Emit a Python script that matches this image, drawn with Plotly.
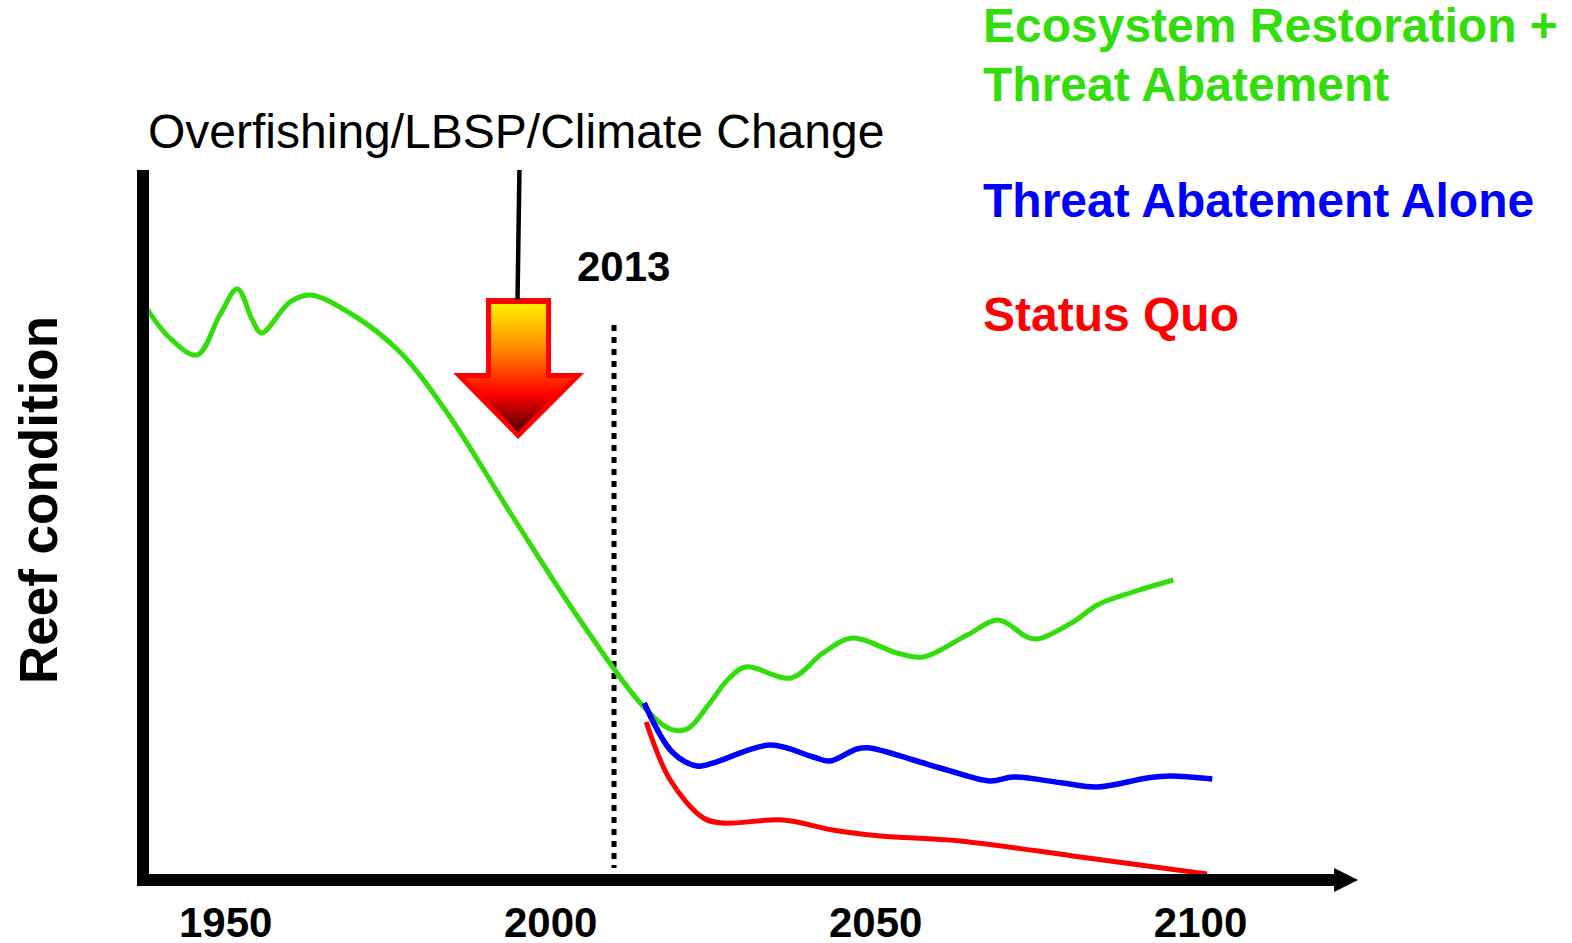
import plotly.graph_objects as go

GREEN = "#33DD0B"
BLUE = "#0000FF"
RED = "#FF0000"

tick_years = [1950, 2000, 2050, 2100]

green_years = [1937.6, 1941.4, 1945.6, 1949.1, 1951.8, 1954.1, 1955.5, 1959.9, 1963, 1969.6, 1976.8,
               1984.1, 1994.2, 2004.5, 2014.2, 2018.4, 2021, 2024.5, 2027.2, 2030, 2037, 2041.9,
               2046.4, 2053.3, 2057.3, 2064.1, 2068.9, 2073.3, 2075, 2080.4, 2084.1, 2089.6, 2095.8]
green_values = [57.4, 54.2, 52.5, 56.5, 59.1, 56, 54.7, 57.8, 58.5, 56.5, 52.8,
                46.7, 36.3, 26, 17.4, 15.1, 15.1, 17.7, 20, 21.3, 20.2, 22.7,
                24.2, 22.7, 22.3, 24.5, 26, 24.3, 24.1, 25.8, 27.5, 28.8, 30]

blue_years = [2014.4, 2018.7, 2022.5, 2025, 2033.8, 2040.4, 2043, 2047.1, 2049.1, 2055.8, 2061,
              2067.6, 2071.2, 2078.8, 2084.1, 2091.8, 2095.3, 2101.8]
blue_values = [17.7, 12.8, 11.4, 11.7, 13.5, 12.3, 11.9, 13.1, 13.2, 12, 11,
               9.9, 10.3, 9.7, 9.3, 10.2, 10.4, 10.1]

red_years = [2014.7, 2018.4, 2023.5, 2026.5, 2035.8, 2043.4, 2050.7, 2063, 2081.5, 2101]
red_values = [15.8, 10, 6.2, 5.7, 6, 5, 4.4, 3.9, 2.3, 0.6]

marker_2013_x = [2009.75, 2009.75]
marker_2013_y = [55.5, 1.2]

stem_x = [1995.2, 1994.9]
stem_y = [71.2, 58]

arrow_outer_x = [1990.06, 2000.06, 2000.06, 2005.14, 1995, 1985, 1990.06, 1990.06]
arrow_outer_y = [58.2, 58.2, 50.7, 50.7, 44.1, 50.7, 50.7, 58.2]
arrow_inner_x = [1990.83, 1999.29, 1999.29, 2003.29, 1995, 1986.83, 1990.83, 1990.83]
arrow_inner_y = [57.6, 57.6, 50.2, 50.2, 44.8, 50.2, 50.2, 57.6]

fig = go.Figure()

fig.add_trace(go.Scatter(x=arrow_outer_x, y=arrow_outer_y, mode="lines", fill="toself",
                         fillcolor=RED, line=dict(width=0, color=RED)))
fig.add_trace(go.Scatter(
    x=arrow_inner_x, y=arrow_inner_y, mode="lines", fill="toself",
    line=dict(width=0, color=RED),
    fillgradient=dict(
        type="vertical", start=57.6, stop=44.8,
        colorscale=[[0, "#FFF000"], [0.33, "#FF9000"], [0.58, "#FF3000"],
                    [0.7, "#FF0000"], [1, "#500000"]],
    ),
))
fig.add_trace(go.Scatter(x=stem_x, y=stem_y, mode="lines", line=dict(color="black", width=4.5)))
fig.add_trace(go.Scatter(x=marker_2013_x, y=marker_2013_y, mode="lines",
                         line=dict(color="black", width=5, dash="6px,6px")))
fig.add_trace(go.Scatter(x=green_years, y=green_values, mode="lines",
                         line=dict(color=GREEN, width=5, shape="spline", smoothing=1)))
fig.add_trace(go.Scatter(x=red_years, y=red_values, mode="lines",
                         line=dict(color=RED, width=5, shape="spline", smoothing=1)))
fig.add_trace(go.Scatter(x=blue_years, y=blue_values, mode="lines",
                         line=dict(color=BLUE, width=5.5, shape="spline", smoothing=1)))
fig.update_traces(cliponaxis=False, showlegend=False, hoverinfo="skip")

FONT = "Liberation Sans"


def note(text, xpx, ypx, size, color="black", bold=True, xanchor="left", angle=0):
    fig.add_annotation(
        text=f"<b>{text}</b>" if bold else text,
        xref="paper", yref="paper",
        x=(xpx - 149) / 1186, y=(874 - ypx) / 704,
        xanchor=xanchor, yanchor="middle", showarrow=False, textangle=angle,
        font=dict(family=FONT, size=size, color=color),
    )


note("Ecosystem Restoration +", 981, 26, 48, GREEN)
note("Threat Abatement", 981, 85, 48, GREEN)
note("Threat Abatement Alone", 981, 200, 48, BLUE)
note("Status Quo", 981, 314, 48, RED)
note("Overfishing/LBSP/Climate Change", 146, 131, 48, bold=False)
note("2013", 575, 266, 42)
note("Reef condition", 38, 500, 53, xanchor="center", angle=-90)

fig.update_layout(
    width=1572, height=943, autosize=False,
    margin=dict(l=149, r=1572 - 1335, t=170, b=943 - 874, autoexpand=False),
    paper_bgcolor="white", plot_bgcolor="white",
    xaxis=dict(
        range=[1938.2, 2120.68], showgrid=False, zeroline=False, automargin=False,
        showline=True, linecolor="black", linewidth=12, layer="below traces",
        tickmode="array", tickvals=tick_years, ticktext=[str(y) for y in tick_years],
        ticks="outside", ticklen=1, tickcolor="rgba(0,0,0,0)",
        tickfont=dict(family=FONT, size=42, color="black", weight="bold"),
    ),
    yaxis=dict(
        range=[0.6, 71], showgrid=False, zeroline=False, showticklabels=False, automargin=False,
        showline=True, linecolor="black", linewidth=12, ticks="", layer="below traces",
    ),
    shapes=[dict(
        type="path", xref="paper", yref="paper", layer="above",
        path="M 0.9992 0.0085 L 1.0194 -0.0085 L 0.9992 -0.0256 Z",
        fillcolor="black", line=dict(width=0),
    )],
)

fig.write_html("out.html", config=dict(displayModeBar=False),
               post_script="document.body.style.margin='0';document.documentElement.style.overflow='hidden';")
